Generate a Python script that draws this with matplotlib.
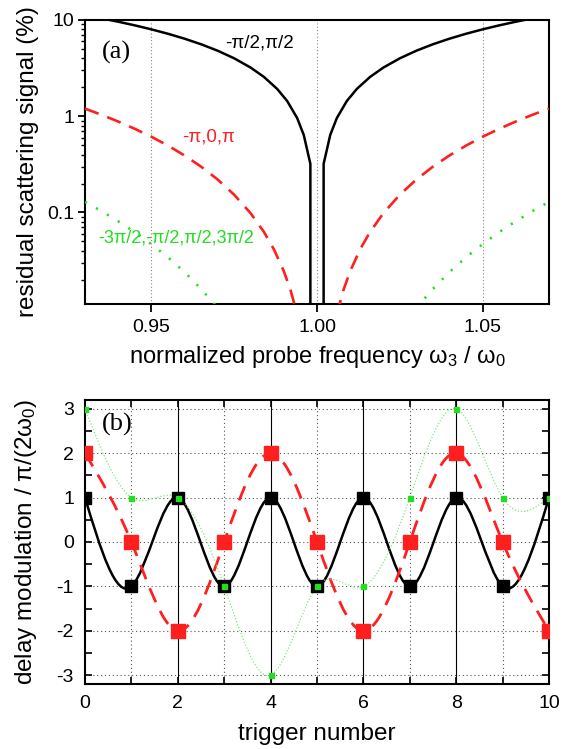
import numpy as np
import matplotlib
matplotlib.use('Agg')
import matplotlib.pyplot as plt
from matplotlib.path import Path
from matplotlib.patches import PathPatch
from matplotlib.ticker import FixedLocator, FixedFormatter, NullFormatter

plt.rcParams['font.family'] = ['Liberation Sans', 'DejaVu Sans']
plt.rcParams['mathtext.fontset'] = 'custom'
plt.rcParams['mathtext.rm'] = 'Liberation Sans'
plt.rcParams['mathtext.it'] = 'Liberation Sans:italic'

# ---------------- panel (a) data ----------------
blk_lx = [0.930, 0.935, 0.940, 0.945, 0.950, 0.955, 0.960, 0.965, 0.970, 0.975, 0.980,
          0.984, 0.988, 0.991, 0.994, 0.996, 0.998, 0.998]
blk_ly = [11.2, 10.4, 9.6, 8.8, 8.0, 7.2, 6.4, 5.6, 4.8, 4.0, 3.2,
          2.56, 1.92, 1.44, 0.96, 0.64, 0.32, 0.001]
blk_rx = [1.002, 1.002, 1.004, 1.006, 1.009, 1.012, 1.016, 1.020, 1.025, 1.030, 1.035,
          1.040, 1.045, 1.050, 1.055, 1.060, 1.065, 1.070]
blk_ry = [0.001, 0.32, 0.64, 0.96, 1.44, 1.92, 2.56, 3.2, 4.0, 4.8, 5.6,
          6.4, 7.2, 8.0, 8.8, 9.6, 10.4, 11.2]

red_lx = [0.930, 0.935, 0.940, 0.945, 0.950, 0.955, 0.960, 0.965, 0.970, 0.975, 0.980,
          0.984, 0.987, 0.990, 0.992, 0.994]
red_ly = [1.20, 1.035, 0.882, 0.741, 0.613, 0.496, 0.392, 0.300, 0.2205, 0.153, 0.098,
          0.0627, 0.0414, 0.0245, 0.0157, 0.0088]
red_rx = [1.006, 1.008, 1.010, 1.013, 1.016, 1.020, 1.025, 1.030, 1.035, 1.040, 1.045,
          1.050, 1.055, 1.060, 1.065, 1.070]
red_ry = [0.0088, 0.0157, 0.0245, 0.0414, 0.0627, 0.098, 0.153, 0.2205, 0.300, 0.392, 0.496,
          0.613, 0.741, 0.882, 1.035, 1.20]

grn_lx = [0.930, 0.935, 0.940, 0.945, 0.950, 0.955, 0.960, 0.965, 0.970]
grn_ly = [0.129, 0.1033, 0.0812, 0.0626, 0.047, 0.0343, 0.0241, 0.0161, 0.0102]
grn_rx = [1.030, 1.035, 1.040, 1.045, 1.050, 1.055, 1.060, 1.065, 1.070]
grn_ry = [0.0102, 0.0161, 0.0241, 0.0343, 0.047, 0.0626, 0.0812, 0.1033, 0.129]

a_xticks = [0.95, 1.00, 1.05]
a_xticklabels = ['0.95', '1.00', '1.05']
a_yticks = [0.1, 1, 10]
a_yticklabels = ['0.1', '1', '10']

# ---------------- panel (b) data ----------------
trig = [0, 1, 2, 3, 4, 5, 6, 7, 8, 9, 10]
blk_b = [1, -1, 1, -1, 1, -1, 1, -1, 1, -1, 1]
red_b = [2, 0, -2, 0, 2, 0, -2, 0, 2, 0, -2]
grn_b = [3, 1, 1, -1, -3, -1, -1, 1, 3, 1, 1]
b_xticklabels = ['0', '2', '4', '6', '8', '10']
b_yticks = [-3, -2, -1, 0, 1, 2, 3]
b_yticklabels = ['-3', '-2', '-1', '0', '1', '2', '3']

RED = '#ff1f1f'
GREEN = '#22dd22'
LGREEN = '#80e880'


def spline_path(x, y):
    """Smooth natural-cubic curve through the data points, drawn as Bezier segments."""
    x = np.asarray(x, float)
    y = np.asarray(y, float)
    n = len(x)
    h = np.diff(x)
    A = np.zeros((n, n))
    r = np.zeros(n)
    A[0, 0] = 1
    A[-1, -1] = 1
    for i in range(1, n - 1):
        A[i, i - 1] = h[i - 1]
        A[i, i] = 2 * (h[i - 1] + h[i])
        A[i, i + 1] = h[i]
        r[i] = 6 * ((y[i + 1] - y[i]) / h[i] - (y[i] - y[i - 1]) / h[i - 1])
    M = np.linalg.solve(A, r)
    d = np.empty(n)
    for i in range(n - 1):
        d[i] = (y[i + 1] - y[i]) / h[i] - h[i] * (2 * M[i] + M[i + 1]) / 6
    d[-1] = (y[-1] - y[-2]) / h[-1] + h[-1] * (M[-2] + 2 * M[-1]) / 6
    verts = [(x[0], y[0])]
    codes = [Path.MOVETO]
    for i in range(n - 1):
        verts += [(x[i] + h[i] / 3, y[i] + d[i] * h[i] / 3),
                  (x[i + 1] - h[i] / 3, y[i + 1] - d[i + 1] * h[i] / 3),
                  (x[i + 1], y[i + 1])]
        codes += [Path.CURVE4] * 3
    return Path(verts, codes)


fig = plt.figure(figsize=(5.67, 7.49), dpi=100)
W, H = 567.0, 749.0
L, R = 85, 549
axa = fig.add_axes([L / W, 1 - 304 / H, (R - L) / W, 284 / H])
axb = fig.add_axes([L / W, 1 - 684 / H, (R - L) / W, 284 / H])

# ---------------- panel (a) ----------------
axa.set_yscale('log')
for xv in a_xticks:
    axa.axvline(xv, color='#888888', lw=0.8, ls=(0, (1, 2)), zorder=1)
axa.plot(blk_lx, blk_ly, color='black', lw=1.8, zorder=3)
axa.plot(blk_rx, blk_ry, color='black', lw=1.8, zorder=3)
axa.plot(red_lx, red_ly, color=RED, lw=1.9, ls=(0, (5.5, 3.5)), zorder=3)
axa.plot(red_rx, red_ry, color=RED, lw=1.9, ls=(0, (5.5, 3.5)), zorder=3)
axa.plot(grn_lx, grn_ly, color=GREEN, lw=1.9, ls=(0, (0.8, 4)), zorder=3)
axa.plot(grn_rx, grn_ry, color=GREEN, lw=1.9, ls=(0, (0.8, 4)), zorder=3)
axa.set_xlim(0.93, 1.07)
axa.set_ylim(0.0112, 10)
axa.xaxis.set_major_locator(FixedLocator(a_xticks))
axa.xaxis.set_major_formatter(FixedFormatter(a_xticklabels))
axa.yaxis.set_major_locator(FixedLocator(a_yticks))
axa.yaxis.set_major_formatter(FixedFormatter(a_yticklabels))
minors = [m * 10.0 ** e for e in (-2, -1, 0) for m in range(2, 10)]
axa.yaxis.set_minor_locator(FixedLocator(minors))
axa.yaxis.set_minor_formatter(NullFormatter())
axa.tick_params(axis='x', which='major', direction='out', length=6, width=1.3,
                labelsize=14, pad=5, top=False)
axa.tick_params(axis='y', which='major', direction='out', length=5, width=1.3,
                labelsize=14, pad=2.5, right=False)
axa.tick_params(axis='y', which='minor', direction='out', length=3, width=1.0, right=False)
axa.set_xlabel('normalized probe frequency ω$_3$ / ω$_0$', fontsize=17)
axa.set_ylabel('residual scattering signal (%)', fontsize=17.5)
axa.xaxis.set_label_coords(0.5, -0.142)
axa.yaxis.set_label_coords(-0.10, 0.5)
for s in axa.spines.values():
    s.set_linewidth(1.5)
axa.text(0.935, 4.6, '(a)', family=['Liberation Serif', 'DejaVu Serif'], fontsize=19,
         ha='left', va='center')
axa.text(0.9828, 5.7, '-π/2,π/2', color='black', fontsize=13.5, ha='center', va='center')
axa.text(0.9674, 0.615, '-π,0,π', color=RED, fontsize=13.5, ha='center', va='center')
axa.text(0.9575, 0.054, '-3π/2,-π/2,π/2,3π/2', color=GREEN, fontsize=13,
         ha='center', va='center')

# ---------------- panel (b) ----------------
for yv in b_yticks:
    axb.axhline(yv, color='#555555', lw=0.8, ls=(0, (1, 2.5)), zorder=1)
for xv in trig[1:-1]:
    if xv % 2 == 0:
        axb.axvline(xv, color='black', lw=0.8, zorder=1)
    else:
        axb.axvline(xv, color='#555555', lw=0.8, ls=(0, (1, 2.5)), zorder=1)

axb.add_patch(PathPatch(spline_path(trig, blk_b), fill=False, edgecolor='black',
                        lw=1.8, zorder=3))
axb.add_patch(PathPatch(spline_path(trig, red_b), fill=False, edgecolor=RED,
                        lw=2.0, ls=(0, (5.5, 3.5)), zorder=3))
axb.add_patch(PathPatch(spline_path(trig, grn_b), fill=False, edgecolor=LGREEN,
                        lw=0.9, ls=(0, (1, 1.5)), zorder=3))
axb.plot(trig, blk_b, ls='none', marker='s', ms=9.2, color='black', zorder=4)
axb.plot(trig, red_b, ls='none', marker='s', ms=9.4, color=RED, zorder=5)
axb.plot(trig, grn_b, ls='none', marker='s', ms=3.6, color=GREEN, zorder=6)

axb.set_xlim(0, 10)
axb.set_ylim(-3.2, 3.2)
axb.xaxis.set_major_locator(FixedLocator(trig[::2]))
axb.xaxis.set_major_formatter(FixedFormatter(b_xticklabels))
axb.xaxis.set_minor_locator(FixedLocator(trig[1::2]))
axb.yaxis.set_major_locator(FixedLocator(b_yticks))
axb.yaxis.set_major_formatter(FixedFormatter(b_yticklabels))
axb.yaxis.set_minor_locator(FixedLocator([v + 0.5 for v in b_yticks[:-1]]))
axb.tick_params(axis='both', which='both', direction='in', length=5, width=1.2,
                top=True, right=True, labelsize=14)
axb.tick_params(axis='both', which='major', pad=8)
axb.set_xlabel('trigger number', fontsize=17.5)
axb.set_ylabel('delay modulation / π/(2ω$_0$)', fontsize=17.5)
axb.xaxis.set_label_coords(0.5, -0.137)
axb.yaxis.set_label_coords(-0.10, 0.5)
for s in axb.spines.values():
    s.set_linewidth(1.5)
axb.text(0.37, 2.64, '(b)', family=['Liberation Serif', 'DejaVu Serif'], fontsize=19,
         ha='left', va='center')

fig.savefig('out.png', dpi=100)
